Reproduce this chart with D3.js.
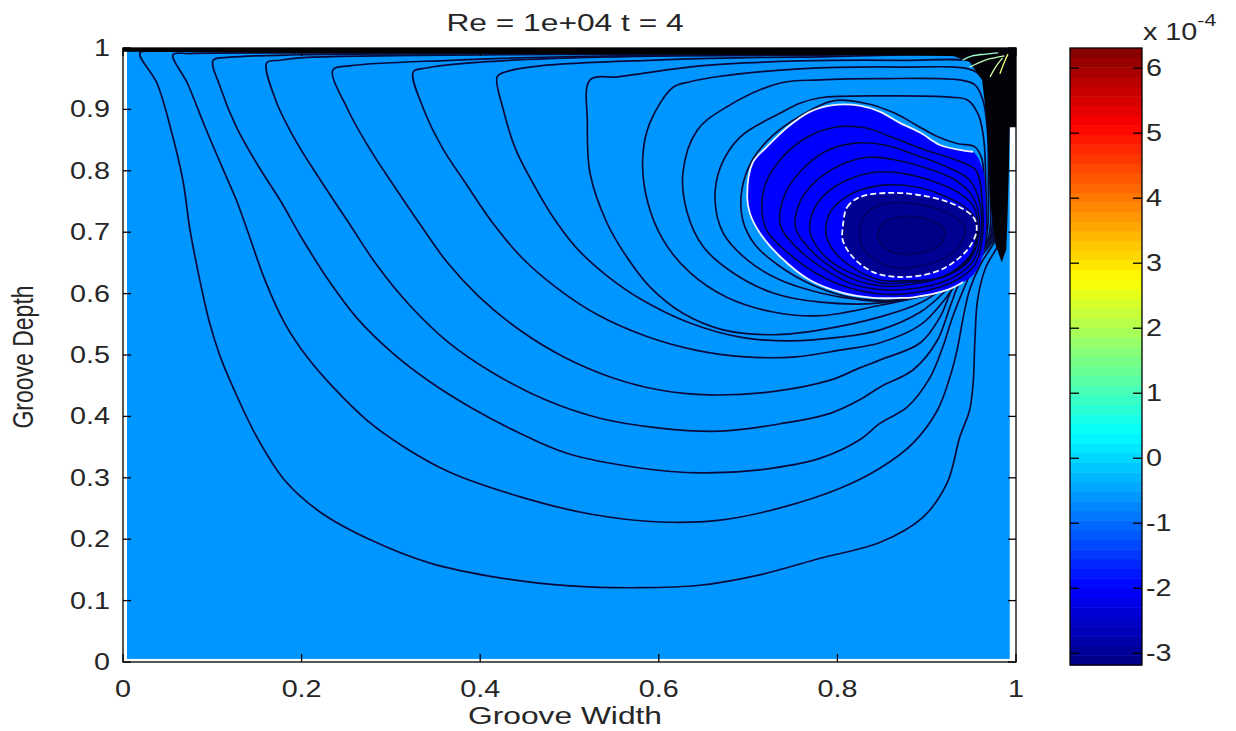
<!DOCTYPE html>
<html><head><meta charset="utf-8">
<script src="https://cdn.jsdelivr.net/npm/d3@7"></script>
<style>
body{margin:0;background:#fff}
text{font-family:"Liberation Sans",Arial,Helvetica,sans-serif;fill:#262626}
</style></head>
<body><svg id="chart" width="1236" height="731"></svg>
<script>
// ---------------- data ----------------
const titleText = "Re = 1e+04 t = 4";
const xLabelText = "Groove Width";
const yLabelText = "Groove Depth";
const xTicks = [0, 0.2, 0.4, 0.6, 0.8, 1];
const xTickLabels = ["0", "0.2", "0.4", "0.6", "0.8", "1"];
const yTicks = [0, 0.1, 0.2, 0.3, 0.4, 0.5, 0.6, 0.7, 0.8, 0.9, 1];
const yTickLabels = ["0", "0.1", "0.2", "0.3", "0.4", "0.5", "0.6", "0.7", "0.8", "0.9", "1"];
const cbTicks = [-3, -2, -1, 0, 1, 2, 3, 4, 5, 6];
const cbRange = [-3.18, 6.31];          // colour limits, x 1e-4
const cbExponent = "-4";
// fill levels (x 1e-4) : outer region, vortex ring, core, centre
const fillLevels = [-0.6, -2.0, -3.0, -3.12];
const fieldX = [0.0045, 0.993];
const fieldY = [0.005, 1.0];

// streamlines (Groove Width, Groove Depth)
const line1 = [[0.019,0.992],[0.038,0.943],[0.053,0.871],[0.067,0.785],[0.075,0.704],[0.086,0.622],[0.097,0.552],[0.109,0.497],[0.123,0.448],[0.150,0.366],[0.181,0.296],[0.221,0.244],[0.277,0.199],[0.344,0.161],[0.422,0.137],[0.501,0.124],[0.579,0.121],[0.646,0.125],[0.713,0.142],[0.781,0.169],[0.848,0.195],[0.896,0.236],[0.923,0.292],[0.937,0.366],[0.948,0.410],[0.952,0.454],[0.954,0.524],[0.957,0.590],[0.966,0.642],[0.980,0.679],[0.988,0.712],[0.989,0.785],[0.989,0.883],[0.990,0.948],[0.990,0.984],[0.982,0.995],[0.870,0.996],[0.646,0.996],[0.422,0.996],[0.198,0.995],[0.041,0.995]];
const line2 = [[0.056,0.989],[0.072,0.943],[0.092,0.871],[0.111,0.806],[0.127,0.752],[0.139,0.704],[0.159,0.622],[0.181,0.552],[0.206,0.497],[0.235,0.448],[0.273,0.394],[0.316,0.349],[0.366,0.309],[0.445,0.269],[0.523,0.241],[0.601,0.228],[0.669,0.231],[0.736,0.251],[0.803,0.283],[0.848,0.316],[0.885,0.357],[0.912,0.410],[0.926,0.464],[0.934,0.508],[0.941,0.562],[0.948,0.606],[0.960,0.647],[0.975,0.682],[0.985,0.712],[0.987,0.785],[0.987,0.883],[0.988,0.948],[0.988,0.980],[0.980,0.993],[0.758,0.994],[0.422,0.993],[0.198,0.992],[0.075,0.991]];
const line3 = [[0.101,0.980],[0.109,0.936],[0.127,0.871],[0.151,0.809],[0.176,0.752],[0.200,0.691],[0.230,0.622],[0.262,0.560],[0.302,0.503],[0.344,0.456],[0.389,0.415],[0.441,0.375],[0.497,0.340],[0.579,0.316],[0.646,0.308],[0.713,0.313],[0.781,0.332],[0.825,0.362],[0.848,0.389],[0.878,0.415],[0.904,0.464],[0.918,0.513],[0.929,0.562],[0.941,0.606],[0.954,0.647],[0.971,0.679],[0.983,0.708],[0.984,0.785],[0.984,0.883],[0.985,0.948],[0.985,0.977],[0.978,0.991],[0.758,0.992],[0.422,0.991],[0.198,0.989],[0.120,0.985]];
const line4 = [[0.161,0.976],[0.171,0.915],[0.193,0.850],[0.221,0.785],[0.252,0.717],[0.284,0.647],[0.321,0.581],[0.364,0.521],[0.413,0.472],[0.473,0.427],[0.534,0.397],[0.601,0.381],[0.669,0.376],[0.736,0.388],[0.792,0.405],[0.825,0.427],[0.848,0.448],[0.885,0.476],[0.912,0.524],[0.926,0.578],[0.937,0.619],[0.951,0.651],[0.968,0.678],[0.981,0.705],[0.982,0.785],[0.982,0.883],[0.983,0.948],[0.983,0.974],[0.975,0.989],[0.758,0.991],[0.422,0.989],[0.198,0.984],[0.176,0.980]];
const line5 = [[0.235,0.964],[0.252,0.899],[0.277,0.834],[0.305,0.772],[0.333,0.712],[0.363,0.651],[0.398,0.596],[0.441,0.544],[0.492,0.498],[0.548,0.463],[0.601,0.443],[0.657,0.435],[0.725,0.440],[0.792,0.459],[0.825,0.479],[0.848,0.492],[0.893,0.520],[0.915,0.562],[0.928,0.606],[0.941,0.638],[0.957,0.668],[0.978,0.702],[0.980,0.785],[0.980,0.883],[0.981,0.948],[0.981,0.971],[0.973,0.986],[0.758,0.989],[0.534,0.987],[0.366,0.980],[0.254,0.971]];
const line6 = [[0.325,0.961],[0.337,0.899],[0.359,0.834],[0.385,0.777],[0.413,0.717],[0.447,0.658],[0.486,0.609],[0.532,0.565],[0.585,0.531],[0.641,0.508],[0.697,0.497],[0.753,0.497],[0.803,0.508],[0.848,0.520],[0.893,0.549],[0.920,0.590],[0.935,0.622],[0.951,0.655],[0.975,0.699],[0.978,0.785],[0.978,0.883],[0.979,0.948],[0.979,0.967],[0.971,0.984],[0.758,0.988],[0.534,0.985],[0.400,0.977],[0.338,0.967]];
const line7 = [[0.419,0.953],[0.426,0.899],[0.440,0.834],[0.459,0.780],[0.480,0.728],[0.508,0.674],[0.542,0.629],[0.581,0.590],[0.635,0.552],[0.691,0.529],[0.747,0.523],[0.803,0.529],[0.848,0.541],[0.893,0.570],[0.920,0.603],[0.937,0.632],[0.957,0.664],[0.973,0.695],[0.975,0.785],[0.975,0.883],[0.976,0.945],[0.976,0.964],[0.969,0.980],[0.758,0.985],[0.590,0.980],[0.467,0.971],[0.428,0.961]];
const line8 = [[0.523,0.948],[0.520,0.878],[0.523,0.796],[0.542,0.715],[0.564,0.660],[0.590,0.611],[0.627,0.568],[0.672,0.541],[0.728,0.533],[0.781,0.541],[0.848,0.562],[0.893,0.585],[0.920,0.611],[0.937,0.635],[0.954,0.661],[0.971,0.692],[0.973,0.785],[0.973,0.883],[0.974,0.940],[0.972,0.964],[0.960,0.977],[0.870,0.980],[0.758,0.979],[0.646,0.971],[0.579,0.958],[0.554,0.953]];
const line9 = [[0.616,0.936],[0.590,0.878],[0.582,0.822],[0.587,0.752],[0.605,0.687],[0.635,0.634],[0.676,0.594],[0.728,0.570],[0.781,0.564],[0.848,0.581],[0.893,0.596],[0.920,0.616],[0.940,0.642],[0.955,0.668],[0.969,0.691],[0.971,0.785],[0.971,0.866],[0.970,0.915],[0.964,0.948],[0.951,0.964],[0.870,0.969],[0.758,0.966],[0.669,0.954],[0.635,0.945]];
const line10 = [[0.736,0.943],[0.676,0.904],[0.643,0.866],[0.627,0.796],[0.632,0.731],[0.650,0.676],[0.683,0.634],[0.728,0.601],[0.781,0.586],[0.848,0.585],[0.893,0.599],[0.920,0.619],[0.941,0.647],[0.957,0.671],[0.966,0.687],[0.969,0.785],[0.968,0.866],[0.963,0.915],[0.954,0.940],[0.937,0.948],[0.848,0.950],[0.781,0.948]];
const line11 = [[0.736,0.894],[0.691,0.855],[0.669,0.806],[0.663,0.752],[0.672,0.699],[0.699,0.655],[0.736,0.622],[0.781,0.601],[0.825,0.590],[0.870,0.588],[0.904,0.603],[0.926,0.622],[0.943,0.648],[0.957,0.673],[0.965,0.691],[0.966,0.785],[0.964,0.850],[0.958,0.891],[0.946,0.915],[0.926,0.920],[0.848,0.922],[0.781,0.919],[0.758,0.910]];
const line12 = [[0.758,0.889],[0.728,0.858],[0.705,0.818],[0.693,0.769],[0.694,0.720],[0.708,0.679],[0.733,0.647],[0.769,0.616],[0.808,0.596],[0.848,0.589],[0.887,0.593],[0.920,0.606],[0.940,0.624],[0.955,0.651],[0.964,0.687],[0.964,0.769],[0.962,0.818],[0.954,0.839],[0.935,0.844],[0.913,0.855],[0.890,0.873],[0.864,0.894],[0.831,0.910],[0.795,0.914]];
const outerLines = [line1, line2, line3, line4, line5, line6, line7, line8, line9, line10, line11, line12];

// vortex: boundary of the -2e-4 band (first 23 points carry the white edge)
const vortexBand = [[0.941,0.619],[0.923,0.606],[0.885,0.594],[0.870,0.593],[0.840,0.593],[0.806,0.601],[0.769,0.622],[0.736,0.660],[0.713,0.699],[0.702,0.731],[0.699,0.757],[0.705,0.813],[0.721,0.839],[0.744,0.871],[0.769,0.896],[0.795,0.907],[0.825,0.906],[0.848,0.896],[0.870,0.878],[0.893,0.862],[0.915,0.842],[0.937,0.834],[0.952,0.831],[0.963,0.801],[0.966,0.752],[0.966,0.695],[0.962,0.658],[0.953,0.632]];
const vortexEdgeCount = 23;
const vortexCore = [[0.806,0.708],[0.811,0.741],[0.825,0.757],[0.856,0.764],[0.889,0.761],[0.926,0.748],[0.952,0.725],[0.956,0.704],[0.948,0.676],[0.929,0.650],[0.907,0.634],[0.870,0.627],[0.840,0.635],[0.817,0.660],[0.806,0.687]];
const ring1 = [[0.716,0.728],[0.719,0.777],[0.736,0.818],[0.764,0.853],[0.797,0.871],[0.831,0.870],[0.864,0.853],[0.898,0.834],[0.932,0.818],[0.955,0.801],[0.962,0.752],[0.962,0.687],[0.954,0.647],[0.932,0.621],[0.893,0.603],[0.853,0.599],[0.814,0.609],[0.775,0.634],[0.741,0.671],[0.722,0.700]];
const ring2 = [[0.736,0.712],[0.741,0.761],[0.758,0.798],[0.786,0.831],[0.820,0.845],[0.853,0.842],[0.887,0.826],[0.920,0.808],[0.948,0.785],[0.960,0.744],[0.960,0.687],[0.951,0.651],[0.928,0.625],[0.890,0.609],[0.853,0.606],[0.816,0.616],[0.783,0.642],[0.755,0.674]];
const ring3 = [[0.753,0.707],[0.758,0.749],[0.775,0.782],[0.803,0.809],[0.834,0.822],[0.864,0.818],[0.898,0.805],[0.932,0.785],[0.952,0.757],[0.959,0.720],[0.956,0.679],[0.946,0.651],[0.924,0.630],[0.887,0.616],[0.853,0.612],[0.820,0.622],[0.789,0.647],[0.767,0.676]];
const ring4 = [[0.769,0.704],[0.775,0.741],[0.792,0.769],[0.816,0.788],[0.845,0.798],[0.876,0.795],[0.907,0.783],[0.935,0.765],[0.953,0.741],[0.957,0.707],[0.953,0.671],[0.940,0.645],[0.918,0.627],[0.884,0.619],[0.850,0.617],[0.822,0.629],[0.795,0.650],[0.778,0.674]];
const ring5 = [[0.787,0.700],[0.792,0.733],[0.806,0.754],[0.828,0.770],[0.857,0.777],[0.887,0.774],[0.915,0.762],[0.940,0.744],[0.954,0.723],[0.956,0.700],[0.951,0.668],[0.935,0.642],[0.913,0.625],[0.879,0.621],[0.848,0.622],[0.823,0.637],[0.803,0.658],[0.792,0.678]];
const vortexRings = [ring1, ring2, ring3, ring4, ring5];
const coreRing1 = [[0.825,0.700],[0.831,0.728],[0.848,0.744],[0.876,0.748],[0.904,0.741],[0.928,0.728],[0.943,0.707],[0.937,0.679],[0.920,0.658],[0.893,0.645],[0.862,0.643],[0.839,0.658],[0.827,0.678]];
const coreRing2 = [[0.845,0.695],[0.853,0.717],[0.876,0.726],[0.904,0.720],[0.920,0.704],[0.915,0.679],[0.893,0.666],[0.864,0.666],[0.850,0.679]];

// crowded contours along the lid and in the upper-right corner
const lidBand = [[0,1.0],[1,1.0],[1,0.975],[0.99,0.984],[0.96,0.986],[0.87,0.988],[0.534,0.990],[0.198,0.992],[0,0.994]];
const cornerBand = [[0.926,0.989],[0.954,0.997],[1.0,1.0],[1.0,0.871],[0.993,0.871],[0.992,0.801],[0.990,0.704],[0.989,0.671],[0.984,0.651],[0.977,0.680],[0.971,0.752],[0.969,0.834],[0.966,0.899],[0.962,0.948],[0.948,0.977]];
const cornerLines = [
  {level: 1.2, pts: [[0.940,0.980],[0.951,0.987],[0.966,0.990],[0.980,0.992]]},
  {level: 1.6, pts: [[0.948,0.969],[0.965,0.980],[0.976,0.984],[0.987,0.987]]},
  {level: 2.0, pts: [[0.971,0.953],[0.978,0.971],[0.985,0.984]]},
  {level: 2.6, pts: [[0.982,0.958],[0.987,0.977],[0.991,0.990]]}
];

// ---------------- drawing ----------------
const svg = d3.select("#chart");
const x = d3.scaleLinear().domain([0, 1]).range([123, 1016]);
const y = d3.scaleLinear().domain([0, 1]).range([662, 48]);
const jet = d3.scaleLinear()
  .domain([0, 0.125, 0.375, 0.625, 0.875, 1])
  .range(["#000080", "#0000ff", "#00ffff", "#ffff00", "#ff0000", "#800000"])
  .clamp(true);
const norm = d3.scaleLinear().domain(cbRange).range([0, 1]);
const colorOf = v => jet(norm(v));

svg.append("rect").attr("width", 1236).attr("height", 731).attr("fill", "#fff");

svg.append("defs").append("clipPath").attr("id", "plotClip")
  .append("rect").attr("x", x(0)).attr("y", y(1)).attr("width", x(1) - x(0)).attr("height", y(0) - y(1));

const plot = svg.append("g").attr("clip-path", "url(#plotClip)");

const loop = d3.line().x(d => x(d[0])).y(d => y(d[1])).curve(d3.curveCatmullRomClosed.alpha(0.5));
const open = d3.line().x(d => x(d[0])).y(d => y(d[1])).curve(d3.curveCatmullRom.alpha(0.5));
const poly = d3.line().x(d => x(d[0])).y(d => y(d[1])).curve(d3.curveLinearClosed);

// outer region fill
plot.append("rect")
  .attr("x", x(fieldX[0])).attr("y", y(fieldY[1]))
  .attr("width", x(fieldX[1]) - x(fieldX[0])).attr("height", y(fieldY[0]) - y(fieldY[1]))
  .attr("fill", colorOf(fillLevels[0]));

const lineColor = "#080a3c";

// outer streamlines
plot.append("g").selectAll("path").data(outerLines).join("path")
  .attr("d", loop).attr("fill", "none").attr("stroke", lineColor).attr("stroke-width", 1.7);

// vortex band
plot.append("path").datum(vortexBand).attr("d", loop).attr("fill", colorOf(fillLevels[1]));
plot.append("g").selectAll("path").data(vortexRings).join("path")
  .attr("d", loop).attr("fill", "none").attr("stroke", "#000640").attr("stroke-width", 1.6);
plot.append("path").datum(vortexBand.slice(0, vortexEdgeCount)).attr("d", open)
  .attr("fill", "none").attr("stroke", "#eef4ff").attr("stroke-width", 1.8);

// core
plot.append("path").datum(vortexCore).attr("d", loop).attr("fill", colorOf(fillLevels[2]));
plot.append("path").datum(coreRing1).attr("d", loop).attr("fill", "none").attr("stroke", "#00005a").attr("stroke-width", 1.4);
plot.append("path").datum(coreRing2).attr("d", loop).attr("fill", colorOf(fillLevels[3])).attr("stroke", "#000055").attr("stroke-width", 1.2);
plot.append("path").datum(vortexCore).attr("d", loop).attr("fill", "none")
  .attr("stroke", "#f4f8ff").attr("stroke-width", 1.8).attr("stroke-dasharray", "6,3");

// crowded contours
plot.append("path").datum(lidBand).attr("d", poly).attr("fill", "#000");
plot.append("path").datum(cornerBand).attr("d", poly).attr("fill", "#020208");
plot.append("g").selectAll("path").data(cornerLines).join("path")
  .attr("d", d => open(d.pts))
  .attr("fill", "none").attr("stroke", d => d3.interpolateRgb(colorOf(d.level), "#ffffff")(0.45)).attr("stroke-width", 1.3);

// axes box
const axisG = svg.append("g").attr("stroke", "#000").attr("stroke-width", 1.3);
axisG.append("rect").attr("x", x(0)).attr("y", y(1)).attr("width", x(1) - x(0)).attr("height", y(0) - y(1)).attr("fill", "none");
const tickLen = 8;
axisG.selectAll("line.xb").data(xTicks).join("line").attr("class", "xb")
  .attr("x1", d => x(d)).attr("x2", d => x(d)).attr("y1", y(0)).attr("y2", y(0) - tickLen);
axisG.selectAll("line.xt").data(xTicks).join("line").attr("class", "xt")
  .attr("x1", d => x(d)).attr("x2", d => x(d)).attr("y1", y(1)).attr("y2", y(1) + tickLen);
axisG.selectAll("line.yl").data(yTicks).join("line").attr("class", "yl")
  .attr("x1", x(0)).attr("x2", x(0) + tickLen).attr("y1", d => y(d)).attr("y2", d => y(d));
axisG.selectAll("line.yr").data(yTicks).join("line").attr("class", "yr")
  .attr("x1", x(1)).attr("x2", x(1) - tickLen).attr("y1", d => y(d)).attr("y2", d => y(d));

const fs = 23, sx = 1.25;
svg.append("g").selectAll("text").data(xTicks).join("text")
  .attr("transform", d => `translate(${x(d)},${y(0) + 35}) scale(${sx},1)`)
  .attr("text-anchor", "middle").attr("font-size", fs).text((d, i) => xTickLabels[i]);
svg.append("g").selectAll("text").data(yTicks).join("text")
  .attr("transform", d => `translate(${x(0) - 13},${y(d) + 8}) scale(${sx},1)`)
  .attr("text-anchor", "end").attr("font-size", fs).text((d, i) => yTickLabels[i]);

svg.append("text").attr("transform", `translate(565,31) scale(1.38,1)`)
  .attr("text-anchor", "middle").attr("font-size", fs).text(titleText);
svg.append("text").attr("transform", `translate(565,724) scale(1.38,1)`)
  .attr("text-anchor", "middle").attr("font-size", fs).text(xLabelText);
svg.append("text").attr("transform", `translate(33,357) rotate(-90) scale(1,1.3)`)
  .attr("text-anchor", "middle").attr("font-size", fs).text(yLabelText);

// colorbar
const cb = {x0: 1070, x1: 1142};
const cbY = d3.scaleLinear().domain(cbRange).range([665, 48]);
const nBands = 64;
const bandVals = d3.range(nBands).map(i => cbRange[0] + (i + 0.5) * (cbRange[1] - cbRange[0]) / nBands);
const bandH = (cbRange[1] - cbRange[0]) / nBands;
svg.append("g").selectAll("rect").data(bandVals).join("rect")
  .attr("x", cb.x0).attr("width", cb.x1 - cb.x0)
  .attr("y", d => cbY(d + bandH / 2)).attr("height", d => cbY(d - bandH / 2) - cbY(d + bandH / 2) + 0.5)
  .attr("fill", d => colorOf(d));
const cbAxis = svg.append("g").attr("stroke", "#000").attr("stroke-width", 1.3);
cbAxis.append("rect").attr("x", cb.x0).attr("y", cbY(cbRange[1])).attr("width", cb.x1 - cb.x0)
  .attr("height", cbY(cbRange[0]) - cbY(cbRange[1])).attr("fill", "none");
cbAxis.selectAll("line.l").data(cbTicks).join("line").attr("class", "l")
  .attr("x1", cb.x0).attr("x2", cb.x0 + 9).attr("y1", d => cbY(d)).attr("y2", d => cbY(d));
cbAxis.selectAll("line.r").data(cbTicks).join("line").attr("class", "r")
  .attr("x1", cb.x1).attr("x2", cb.x1 - 9).attr("y1", d => cbY(d)).attr("y2", d => cbY(d));
svg.append("g").selectAll("text").data(cbTicks).join("text")
  .attr("transform", d => `translate(${cb.x1 + 4},${cbY(d) + 8}) scale(${sx},1)`)
  .attr("font-size", fs).text(d => d3.format("d")(d).replace("−", "-"));
const expT = svg.append("text").attr("transform", `translate(1143,40) scale(${sx},1)`).attr("font-size", fs);
expT.append("tspan").text("x 10");
expT.append("tspan").attr("dy", -14).attr("font-size", 17).text(cbExponent);
</script>
</body></html>
